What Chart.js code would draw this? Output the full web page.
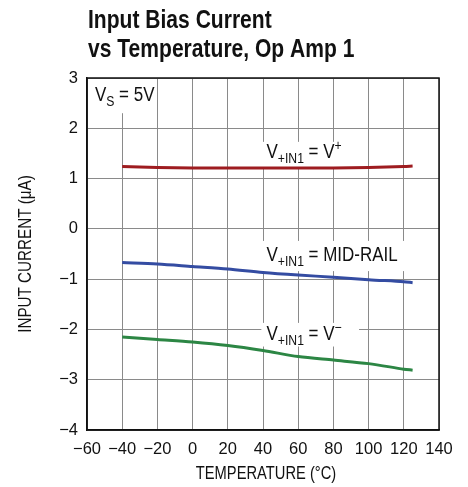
<!DOCTYPE html>
<html>
<head>
<meta charset="utf-8">
<script src="https://cdn.jsdelivr.net/npm/chart.js@4"></script>
<style>
  html, body { margin: 0; padding: 0; background: #fff; }
  #wrap { width: 468px; height: 487px; position: relative; }
</style>
</head>
<body>
<div id="wrap"><canvas id="myChart" width="468" height="487"></canvas></div>
<script>
// temperature (°C) and input bias current (µA)
const temps = [-40, -20, 0, 20, 40, 60, 80, 100, 120, 125];
const vPlus = [1.24, 1.22, 1.21, 1.21, 1.21, 1.21, 1.21, 1.22, 1.24, 1.25];
const vMid = [-0.67, -0.70, -0.75, -0.80, -0.87, -0.92, -0.96, -1.01, -1.05, -1.07];
const vMinus = [-2.15, -2.20, -2.25, -2.32, -2.42, -2.54, -2.61, -2.68, -2.79, -2.81];

const xTickValues = [-60, -40, -20, 0, 20, 40, 60, 80, 100, 120, 140];
const xTickLabels = ['−60', '−40', '−20', '0', '20', '40', '60', '80', '100', '120', '140'];
const yTickValues = [-4, -3, -2, -1, 0, 1, 2, 3];
const yTickLabels = ['−4', '−3', '−2', '−1', '0', '1', '2', '3'];

const FONT = "'Liberation Sans', Arial, sans-serif";

// curve labels, anchored in data coordinates (text start / baseline, white box)
const notes = [
  { x: -55.5, y: 2.54, bg: [-60, 3, -21.4, 2.32], parts: [['V', 0], ['S', 1], [' = 5V', 0]] },
  { x: 42, y: 1.41, bg: [38.5, 1.75, 90, 1.24], parts: [['V', 0], ['+IN1', 1], [' = V', 0], ['+', 2]] },
  { x: 42, y: -0.64, bg: [38.5, -0.22, 120.8, -0.82], parts: [['V', 0], ['+IN1', 1], [' = MID-RAIL', 0]] },
  { x: 42, y: -2.21, bg: [38.5, -1.85, 94, -2.32], parts: [['V', 0], ['+IN1', 1], [' = V', 0], ['−', 2]] }
];

// Helvetica-condensed look: squeeze the text horizontally
function narrowText(ctx, text, x, y, sx) {
  ctx.save();
  ctx.translate(x, y);
  ctx.scale(sx, 1);
  ctx.fillText(text, 0, 0);
  ctx.restore();
  return ctx.measureText(text).width * sx;
}

const notesPlugin = {
  id: 'notes',
  beforeDatasetsDraw(chart) {
    const { ctx, scales: { x, y } } = chart;
    ctx.save();
    for (const n of notes) {
      const [x0, y0, x1, y1] = n.bg;
      ctx.fillStyle = '#fff';
      ctx.fillRect(x.getPixelForValue(x0) + 1, y.getPixelForValue(y0) + 1,
        x.getPixelForValue(x1) - x.getPixelForValue(x0), y.getPixelForValue(y1) - y.getPixelForValue(y0));
      let px = x.getPixelForValue(n.x);
      const py = y.getPixelForValue(n.y);
      ctx.fillStyle = '#111';
      ctx.textBaseline = 'alphabetic';
      ctx.textAlign = 'left';
      for (const [t, kind] of n.parts) {
        const size = kind ? 14 : 19.5;
        const dy = kind === 1 ? 5 : kind === 2 ? -8 : 0;
        ctx.font = size + 'px ' + FONT;
        px += narrowText(ctx, t, px, py + dy, 0.87);
      }
    }
    ctx.restore();
  },
  afterDraw(chart) {
    const { ctx, chartArea: a } = chart;
    ctx.save();
    ctx.strokeStyle = '#111';
    ctx.lineWidth = 1.5;
    ctx.strokeRect(a.left, a.top, a.right - a.left, a.bottom - a.top);
    ctx.fillStyle = '#111';
    // heading
    ctx.font = 'bold 26px ' + FONT;
    ctx.textBaseline = 'alphabetic';
    ctx.textAlign = 'left';
    narrowText(ctx, 'Input Bias Current', a.left + 1, 28, 0.81);
    narrowText(ctx, 'vs Temperature, Op Amp 1', a.left + 1, 57, 0.81);
    // axis titles
    ctx.font = '17.5px ' + FONT;
    ctx.textBaseline = 'middle';
    ctx.textAlign = 'center';
    narrowText(ctx, 'TEMPERATURE (°C)', (a.left + a.right) / 2 + 3, 474, 0.84);
    ctx.save();
    ctx.translate(26, (a.top + a.bottom) / 2);
    ctx.rotate(-Math.PI / 2);
    narrowText(ctx, 'INPUT CURRENT (μA)', 0, 0, 0.87);
    ctx.restore();
    ctx.restore();
  }
};

function series(vals, color) {
  return {
    data: temps.map((t, i) => ({ x: t, y: vals[i] })),
    borderColor: color,
    borderWidth: 3,
    pointRadius: 0,
    tension: 0.3,
    fill: false
  };
}

const ctx = document.getElementById('myChart').getContext('2d');
const myChart = new Chart(ctx, {
  type: 'line',
  data: {
    datasets: [
      series(vPlus, 'rgb(158, 28, 32)'),
      series(vMid, 'rgb(52, 76, 162)'),
      series(vMinus, 'rgb(44, 134, 68)')
    ]
  },
  options: {
    responsive: false,
    animation: false,
    devicePixelRatio: 1,
    layout: { padding: { left: 0, right: 29, top: 78, bottom: 0 } },
    plugins: { legend: { display: false }, tooltip: { enabled: false } },
    scales: {
      x: {
        type: 'linear',
        min: -60,
        max: 140,
        afterBuildTicks: s => { s.ticks = xTickValues.map(v => ({ value: v })); },
        afterFit: s => { s.height = 57; },
        grid: { color: '#8a8a8a', lineWidth: 1, drawTicks: false },
        border: { color: '#111', width: 1.5 },
        ticks: {
          color: '#111',
          padding: 10,
          maxRotation: 0,
          autoSkip: false,
          font: { family: FONT, size: 16.5 },
          callback: v => xTickLabels[xTickValues.indexOf(v)]
        },
        title: { display: false }
      },
      y: {
        min: -4,
        max: 3,
        afterBuildTicks: s => { s.ticks = yTickValues.map(v => ({ value: v })); },
        afterFit: s => { s.width = 87; },
        grid: { color: '#8a8a8a', lineWidth: 1, drawTicks: false },
        border: { color: '#111', width: 1.5 },
        ticks: {
          color: '#111',
          padding: 9,
          autoSkip: false,
          font: { family: FONT, size: 16.5 },
          callback: v => yTickLabels[yTickValues.indexOf(v)]
        },
        title: { display: false }
      }
    }
  },
  plugins: [notesPlugin]
});
</script>
</body>
</html>
